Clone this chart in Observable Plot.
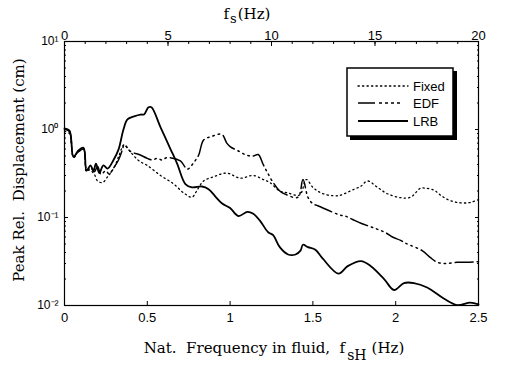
<!DOCTYPE html>
<html>
<head>
<meta charset="utf-8">
<script src="https://cdn.jsdelivr.net/npm/d3@7"></script>
<script src="https://cdn.jsdelivr.net/npm/@observablehq/plot@0.6"></script>
<style>
  html, body { margin: 0; padding: 0; background: #fff; }
  #chart { width: 505px; height: 368px; }
</style>
</head>
<body>
<div id="chart"></div>
<script>
// ---- data ----
const seriesNames = ["Fixed", "EDF", "LRB"];

const fixedPts = [
  [0, 0.95], [0.03, 0.9], [0.054, 0.5], [0.085, 0.56], [0.115, 0.6], [0.133, 0.36],
  [0.16, 0.34], [0.18, 0.31], [0.2, 0.26], [0.23, 0.25], [0.26, 0.29], [0.3, 0.37],
  [0.33, 0.51], [0.36, 0.67], [0.4, 0.55], [0.45, 0.44], [0.5, 0.39], [0.58, 0.30],
  [0.66, 0.24], [0.72, 0.19], [0.77, 0.17], [0.795, 0.196], [0.84, 0.26], [0.9, 0.29],
  [0.98, 0.32], [1.06, 0.28], [1.14, 0.30], [1.2, 0.27], [1.24, 0.25], [1.3, 0.20],
  [1.35, 0.19], [1.42, 0.18], [1.46, 0.27], [1.5, 0.22], [1.55, 0.19], [1.62, 0.177],
  [1.66, 0.178], [1.7, 0.19], [1.75, 0.21], [1.79, 0.227], [1.83, 0.26], [1.89, 0.22],
  [1.95, 0.186], [2.03, 0.168], [2.09, 0.17], [2.15, 0.215], [2.18, 0.215], [2.23, 0.205],
  [2.27, 0.18], [2.32, 0.158], [2.39, 0.147], [2.45, 0.148], [2.5, 0.16]
];

const edfPts = [
  [0, 1.0], [0.03, 0.95], [0.054, 0.48], [0.085, 0.56], [0.115, 0.6], [0.133, 0.33],
  [0.157, 0.37], [0.18, 0.33], [0.2, 0.38], [0.22, 0.31], [0.25, 0.34], [0.27, 0.31],
  [0.29, 0.35], [0.326, 0.45], [0.35, 0.59], [0.36, 0.67], [0.40, 0.56], [0.45, 0.52],
  [0.5, 0.47], [0.53, 0.45], [0.56, 0.47], [0.59, 0.45], [0.62, 0.48], [0.70, 0.44],
  [0.73, 0.37], [0.745, 0.355], [0.78, 0.42], [0.81, 0.51], [0.84, 0.76], [0.89, 0.835],
  [0.95, 0.88], [0.98, 0.70], [1.0, 0.64], [1.05, 0.57], [1.1, 0.51], [1.14, 0.50],
  [1.17, 0.52], [1.2, 0.40], [1.225, 0.325], [1.26, 0.25], [1.3, 0.2], [1.335, 0.183],
  [1.41, 0.17], [1.44, 0.27], [1.47, 0.17], [1.5, 0.143], [1.53, 0.136], [1.655, 0.108],
  [1.70, 0.103], [1.74, 0.095], [1.79, 0.086], [1.87, 0.076], [1.94, 0.067], [1.98, 0.06],
  [2.03, 0.055], [2.06, 0.051], [2.16, 0.042], [2.21, 0.035], [2.25, 0.031], [2.30, 0.030],
  [2.37, 0.031], [2.43, 0.031], [2.5, 0.0315]
];

const lrbPts = [
  [0, 1.03], [0.03, 0.97], [0.054, 0.49], [0.085, 0.58], [0.115, 0.62], [0.133, 0.34],
  [0.157, 0.39], [0.175, 0.34], [0.19, 0.41], [0.21, 0.32], [0.235, 0.39], [0.26, 0.36],
  [0.296, 0.45], [0.326, 0.59], [0.356, 1.0], [0.38, 1.30], [0.42, 1.41], [0.46, 1.48],
  [0.48, 1.48], [0.507, 1.79], [0.525, 1.79], [0.58, 1.06], [0.64, 0.60], [0.68, 0.41],
  [0.73, 0.24], [0.77, 0.22], [0.83, 0.225], [0.87, 0.21], [0.91, 0.174], [0.95, 0.145],
  [1.0, 0.128], [1.05, 0.104], [1.105, 0.116], [1.14, 0.11], [1.18, 0.092], [1.23, 0.068],
  [1.26, 0.063], [1.30, 0.046], [1.35, 0.038], [1.395, 0.038], [1.425, 0.042], [1.44, 0.049],
  [1.47, 0.046], [1.515, 0.043], [1.56, 0.034], [1.655, 0.023], [1.71, 0.028], [1.79, 0.032],
  [1.85, 0.028], [1.93, 0.020], [1.99, 0.015], [2.05, 0.018], [2.11, 0.018], [2.19, 0.016],
  [2.29, 0.012], [2.37, 0.0101], [2.45, 0.0108], [2.5, 0.0103]
];

const bottomTicks = [0, 0.5, 1, 1.5, 2, 2.5];
const topTicksHz = [0, 5, 10, 15, 20];
const topMinorHz = d3.range(0, 21, 1);
const yMajor = [0.01, 0.1, 1, 10];
const yLabels = ["10\u207B\u00B2", "10\u207B\u00B9", "10\u2070", "10\u00B9"];
const yMinor = [0.01, 0.1, 1].flatMap(d => d3.range(2, 10).map(k => k * d));
const fsPerFsH = 8; // top axis: fs (0..20 Hz) over fsH (0..2.5 Hz)

// ---- build table ----
const rows = [
  ...fixedPts.map(([x, y]) => ({series: "Fixed", x, y})),
  ...edfPts.map(([x, y]) => ({series: "EDF", x, y})),
  ...lrbPts.map(([x, y]) => ({series: "LRB", x, y}))
];

const lineStyle = {
  Fixed: {strokeWidth: 1.3, strokeDasharray: "1.3,3.2", strokeLinecap: "round"},
  EDF: {strokeWidth: 1.5, strokeDasharray: "18,4,1.5,4,1.5,4,1.5,4"},
  LRB: {strokeWidth: 1.8}
};

const sans = "'Liberation Sans', Arial, sans-serif";
const serif = "'DejaVu Serif', 'Liberation Serif', serif";

const chart = Plot.plot({
  width: 505,
  height: 368,
  marginLeft: 64,
  marginRight: 27,
  marginTop: 41,
  marginBottom: 63,
  style: {fontFamily: sans, fontSize: "13px", color: "black", background: "white"},
  x: {domain: [0, 2.5]},
  y: {type: "log", domain: [0.01, 10]},
  marks: [
    Plot.frame({stroke: "black", strokeWidth: 1.2}),
    // bottom axis
    Plot.axisX({anchor: "bottom", ticks: bottomTicks, tickSize: 0, tickPadding: 7,
      tickFormat: d => String(d), label: null, fontSize: 13}),
    Plot.axisX({anchor: "bottom", ticks: bottomTicks, tickSize: 4, dy: -4, fill: "none", label: null}),
    // top axis (fs)
    Plot.axisX({anchor: "top", ticks: topTicksHz.map(t => t / fsPerFsH), tickSize: 0, tickPadding: 2,
      tickFormat: d => String(Math.round(d * fsPerFsH)), label: null, fontSize: 13}),
    Plot.axisX({anchor: "top", ticks: topTicksHz.map(t => t / fsPerFsH), tickSize: 4, dy: 4, fill: "none", label: null}),
    Plot.axisX({anchor: "top", ticks: topMinorHz.map(t => t / fsPerFsH), tickSize: 2, dy: 2, fill: "none", label: null}),
    // left axis
    Plot.axisY({anchor: "left", ticks: yMajor, tickSize: 0, tickPadding: 6,
      tickFormat: d => yLabels[yMajor.indexOf(d)], label: null, fontSize: 12}),
    Plot.axisY({anchor: "left", ticks: yMajor, tickSize: 4, dx: 4, fill: "none", label: null}),
    Plot.axisY({anchor: "left", ticks: yMinor, tickSize: 2, dx: 2, fill: "none", label: null}),
    // right axis ticks
    Plot.axisY({anchor: "right", ticks: yMajor, tickSize: 4, dx: -4, fill: "none", label: null}),
    Plot.axisY({anchor: "right", ticks: yMinor, tickSize: 2, dx: -2, fill: "none", label: null}),
    // curves
    ...seriesNames.map(name => Plot.line(rows.filter(r => r.series === name), {
      x: "x", y: "y", stroke: "black", curve: "catmull-rom", ...lineStyle[name]
    }))
  ]
});

document.getElementById("chart").appendChild(chart);

// ---- titles (with sub/superscripts) and legend ----
const svg = d3.select(chart);

const xt = svg.append("text")
  .attr("x", 274).attr("y", 353)
  .attr("text-anchor", "middle")
  .style("font-family", serif).style("font-size", "15px").attr("fill", "black");
xt.append("tspan").text("Nat.  Frequency in fluid,  f");
xt.append("tspan").attr("dy", 7).attr("dx", 2).style("font-size", "14px").text("sH");
xt.append("tspan").attr("dy", -7).attr("dx", 5).text("(Hz)");

const tt = svg.append("text")
  .attr("x", 247).attr("y", 19)
  .attr("text-anchor", "middle")
  .style("font-family", serif).style("font-size", "15px").attr("fill", "black");
tt.append("tspan").text("f");
tt.append("tspan").attr("dy", 4).attr("dx", 1).style("font-size", "13px").text("s");
tt.append("tspan").attr("dy", -4).attr("dx", 1).text("(Hz)");

svg.append("text")
  .attr("transform", "translate(24,170) rotate(-90)")
  .attr("text-anchor", "middle")
  .style("font-family", serif).style("font-size", "15px").attr("fill", "black")
  .text("Peak Rel.  Displacement (cm)");

// legend box with drop shadow
const lg = svg.append("g");
lg.append("rect").attr("x", 350).attr("y", 71).attr("width", 107).attr("height", 69).attr("fill", "black");
lg.append("rect").attr("x", 347).attr("y", 68).attr("width", 106).attr("height", 68)
  .attr("fill", "white").attr("stroke", "black").attr("stroke-width", 1.5);
const legendY = [86, 103, 121];
seriesNames.forEach((name, i) => {
  const st = lineStyle[name];
  lg.append("line").attr("x1", 358).attr("x2", 408).attr("y1", legendY[i]).attr("y2", legendY[i])
    .attr("stroke", "black").attr("stroke-width", st.strokeWidth)
    .attr("stroke-dasharray", name === "EDF" ? "17,4,3,3,3,3,3,3,3" : (st.strokeDasharray || null))
    .attr("stroke-linecap", st.strokeLinecap || "butt");
  lg.append("text").attr("x", 413).attr("y", legendY[i]).attr("dy", "0.35em")
    .attr("text-anchor", "start")
    .style("font-family", "'Liberation Sans Narrow', 'Liberation Sans', Arial, sans-serif")
    .style("font-size", "13px").attr("fill", "black").text(name);
});
</script>
</body>
</html>
